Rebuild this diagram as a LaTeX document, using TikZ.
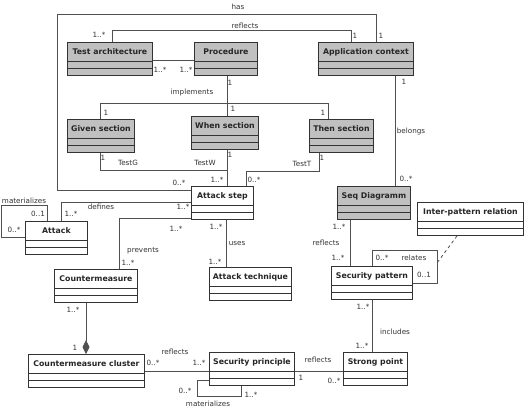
\documentclass[tikz,border=0pt]{standalone}
\usepackage{fontspec}
\setmainfont{DejaVu Sans}
\usetikzlibrary{arrows.meta}

\newcommand{\clsfont}{\fontsize{7.8}{9}\selectfont\bfseries}
\newcommand{\lblfont}{\fontsize{7.2}{8}\selectfont}
\definecolor{clsgray}{HTML}{C0C0C0}
\definecolor{linegray}{HTML}{505050}
\definecolor{txtgray}{HTML}{333333}

\tikzset{
  cls/.style={draw=black!80, line width=0.9pt, fill=white, anchor=north west,
    inner sep=0pt, text height=12pt, text depth=21pt, font=\clsfont, text=black!85,
    path picture={\draw[black!80, line width=0.9pt]
      ([yshift=-19pt]path picture bounding box.north west) -- ([yshift=-19pt]path picture bounding box.north east)
      ([yshift=-26pt]path picture bounding box.north west) -- ([yshift=-26pt]path picture bounding box.north east);}},
  grey cls/.style={cls, fill=clsgray},
  assoc/.style={draw=linegray, line width=0.8pt},
  lbl/.style={font=\lblfont, text=txtgray, inner sep=0pt},
}

\begin{document}
\begin{tikzpicture}[x=1pt, y=-1pt]
    \useasboundingbox[fill=white] (0,0) rectangle (529,407);

    % test side
    \node[grey cls, minimum width=85pt] (test) at (67,42) {Test architecture};
    \node[grey cls, minimum width=63pt] (proc) at (194,42) {Procedure};
    \node[grey cls, minimum width=95pt] (app) at (318,42) {Application context};
    \node[grey cls, minimum width=67pt] (given) at (67,119) {Given section};
    \node[grey cls, minimum width=67pt] (when) at (191,116) {When section};
    \node[grey cls, minimum width=64pt] (then) at (309,119) {Then section};
    \node[grey cls, minimum width=73pt] (seq) at (337,186) {Seq Diagramm};

    % security side
    \node[cls, minimum width=62pt] (step) at (191,186) {Attack step};
    \node[cls, minimum width=62pt] (attack) at (25,221) {Attack};
    \node[cls, minimum width=83pt] (counter) at (54,269) {Countermeasure};
    \node[cls, minimum width=82pt] (tech) at (209,267) {Attack technique};
    \node[cls, minimum width=106pt] (inter) at (417,202) {Inter-pattern relation};
    \node[cls, minimum width=81pt] (pattern) at (331,266) {Security pattern};
    \node[cls, minimum width=116pt] (cluster) at (28,354) {Countermeasure cluster};
    \node[cls, minimum width=85pt] (principle) at (209,352) {Security principle};
    \node[cls, minimum width=64pt] (strong) at (343,352) {Strong point};

    % has
    \draw[assoc] ([xshift=58pt]app.north west) |- (57,14) |- ([yshift=-4pt]step.north west);
    \node[lbl] (hasT) at (238,7) {has};
    \node[lbl] (hasA) at (381,36) {1};
    \node[lbl] (hasB) at (179,183) {0..*};

    % reflects (test architecture)
    \draw[assoc] ([xshift=45pt]test.north west) -- ++(0,-12) -| ([xshift=33pt]app.north west);
    \node[lbl] (refT) at (245,26) {reflects};
    \node[lbl] (refA) at (99,35) {1..*};
    \node[lbl] (refB) at (355,36) {1};

    % test architecture - procedure
    \draw[assoc] ([yshift=-18pt]test.north east) -- ([yshift=-18pt]proc.north west);
    \node[lbl] (tpA) at (160,70) {1..*};
    \node[lbl] (tpB) at (186,70) {1..*};

    % implements
    \draw[assoc] ([xshift=33pt]proc.south west) -- ([xshift=36pt]when.north west);
    \draw[assoc] ([xshift=33pt]given.north west) -- ++(0,-16) -| ([xshift=19pt]then.north west);
    \node[lbl] (impT) at (192,93) {implements};
    \node[lbl] (impA) at (230,83) {1};
    \node[lbl] (impB) at (233,109) {1};
    \node[lbl] (impC) at (106,113) {1};
    \node[lbl] (impD) at (323,113) {1};

    % TestG, TestW
    \coordinate (tw) at (227,170);
    \draw[assoc] ([xshift=36pt]when.south west) -- ([xshift=36pt]step.north west);
    \draw[assoc] ([xshift=33pt]given.south west) |- (tw);
    \node[lbl] (tgT) at (128,163) {TestG};
    \node[lbl] (tgA) at (103,158) {1};
    \node[lbl] (twT) at (205,163) {TestW};
    \node[lbl] (twA) at (230,155) {1};
    \node[lbl] (twB) at (217,180) {1..*};

    % TestT
    \draw[assoc] ([xshift=10pt]then.south west) -- ++(0,18) -| ([xshift=55pt]step.north west);
    \node[lbl] (ttT) at (302,164) {TestT};
    \node[lbl] (ttA) at (322,158) {1};
    \node[lbl] (ttB) at (254,180) {0..*};

    % defines
    \draw[assoc] ([yshift=-16pt]step.north west) -| ([xshift=36pt]attack.north west);
    \node[lbl] (defT) at (101,207) {defines};
    \node[lbl] (defA) at (183,207) {1..*};
    \node[lbl] (defB) at (71,214) {1..*};

    % materializes (attack)
    \draw[assoc] ([xshift=22pt]attack.north west) |- (1,205) |- ([yshift=-16pt]attack.north west);
    \node[lbl] (matT) at (24,201) {materializes};
    \node[lbl] (matA) at (38,214) {0..1};
    \node[lbl] (matB) at (14,230) {0..*};

    % prevents
    \draw[assoc] ([yshift=-32pt]step.north west) -| ([xshift=65pt]counter.north west);
    \node[lbl] (prvT) at (143,251) {prevents};
    \node[lbl] (prvA) at (176,229) {1..*};
    \node[lbl] (prvB) at (128,263) {1..*};

    % uses
    \draw[assoc] ([xshift=35pt]step.south west) -- ([xshift=17pt]tech.north west);
    \node[lbl] (useT) at (237,244) {uses};
    \node[lbl] (useA) at (216,227) {1..*};
    \node[lbl] (useB) at (215,262) {1..*};

    % belongs
    \draw[assoc] ([xshift=77pt]app.south west) -- ([xshift=58pt]seq.north west);
    \node[lbl] (belT) at (411,132) {belongs};
    \node[lbl] (belA) at (404,82) {1};
    \node[lbl] (belB) at (406,179) {0..*};

    % reflects (seq diagramm)
    \draw[assoc] ([xshift=13pt]seq.south west) -- ([xshift=19pt]pattern.north west);
    \node[lbl] (rsqT) at (326,243) {reflects};
    \node[lbl] (rsqA) at (339,227) {1..*};
    \node[lbl] (rsqB) at (338,258) {1..*};

    % relates
    \coordinate (relmid) at (437,263);
    \draw[assoc] ([xshift=41pt]pattern.north west) |- (437,250) |- ([yshift=-17pt]pattern.north east);
    \draw[assoc, dashed] ([xshift=40pt]inter.south west) -- (relmid);
    \node[lbl] (relT) at (414,258) {relates};
    \node[lbl] (relA) at (382,258) {0..*};
    \node[lbl] (relB) at (424,275) {0..1};

    % includes
    \draw[assoc] ([xshift=41pt]pattern.south west) -- ([xshift=29pt]strong.north west);
    \node[lbl] (incT) at (395,332) {includes};
    \node[lbl] (incA) at (363,307) {1..*};
    \node[lbl] (incB) at (362,346) {1..*};

    % countermeasure cluster (composition)
    \draw[assoc, -{Diamond[length=14pt, width=7pt]}] ([xshift=32pt]counter.south west) -- ([xshift=58pt]cluster.north west);
    \node[lbl] (cmpA) at (73,310) {1..*};
    \node[lbl] (cmpB) at (75,348) {1};

    % reflects (cluster)
    \draw[assoc] ([yshift=-17pt]cluster.north east) -- ([yshift=-19pt]principle.north west);
    \node[lbl] (rclT) at (175,352) {reflects};
    \node[lbl] (rclA) at (153,363) {0..*};
    \node[lbl] (rclB) at (199,363) {1..*};

    % materializes (principle)
    \draw[assoc] ([yshift=-28pt]principle.north west) -| (197,396) -| ([xshift=32pt]principle.south west);
    \node[lbl] (mpT) at (208,404) {materializes};
    \node[lbl] (mpA) at (185,391) {0..*};
    \node[lbl] (mpB) at (251,395) {1..*};

    % reflects (strong point)
    \draw[assoc] ([yshift=-19pt]principle.north east) -- ([yshift=-19pt]strong.north west);
    \node[lbl] (rspT) at (318,360) {reflects};
    \node[lbl] (rspA) at (301,378) {1};
    \node[lbl] (rspB) at (334,381) {0..*};
\end{tikzpicture}
\end{document}
